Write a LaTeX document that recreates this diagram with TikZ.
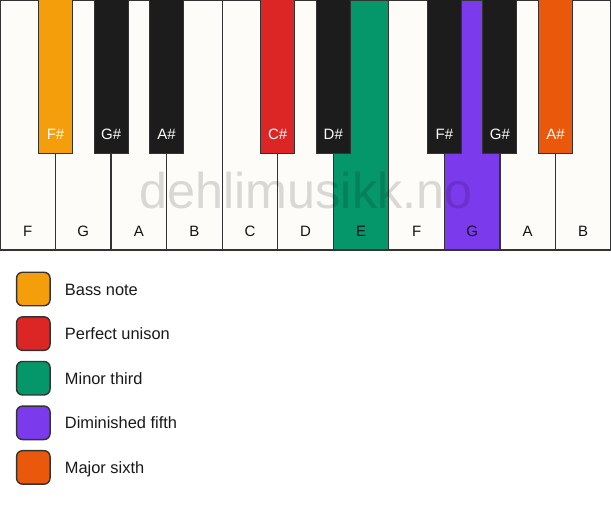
\documentclass[tikz,border=0pt]{standalone}
\usepackage{fontspec}
\setmainfont{Liberation Sans}
\usetikzlibrary{positioning}

\definecolor{keywhite}{HTML}{FDFCF8}
\definecolor{keyblack}{HTML}{1C1C1C}
\definecolor{keyline}{HTML}{333333}
\definecolor{bassnote}{HTML}{F59E0B}
\definecolor{unison}{HTML}{DC2626}
\definecolor{minorthird}{HTML}{059669}
\definecolor{dimfifth}{HTML}{7C3AED}
\definecolor{majorsixth}{HTML}{EA580C}

\tikzset{
	whitekey/.style={draw=keyline, line width=1.3pt},
	blackkey/.style={draw=keyline, line width=1pt},
	keylabel/.style={font=\fontsize{15}{18}\selectfont, text height=11pt, text depth=0pt, inner sep=0pt},
	legendbox/.style={draw=keyline, line width=1.4pt, rounded corners=6pt, minimum size=33.5pt, inner sep=0pt},
	legendtext/.style={font=\fontsize{16.4}{19}\selectfont, text height=12pt, text depth=0pt, inner sep=0pt, text=black!90},
	watermark/.style={font=\fontsize{50.3}{60}\selectfont, text=black, text opacity=0.14, inner sep=0pt}
}

\def\keyw{55.545}

\begin{document}
\begin{tikzpicture}[x=1pt, y=-1pt]
	\useasboundingbox[fill=white] (0,0) rectangle (611,506);
	
	%Weiße Tasten
	\foreach \k/\c [count=\i from 0] in {F/keywhite,G/keywhite,A/keywhite,B/keywhite,C/keywhite,D/keywhite,E/minorthird,F/keywhite,G/dimfifth,A/keywhite,B/keywhite} {
		\draw[whitekey, fill=\c] (\i*\keyw,0) rectangle ++(\keyw,250);
		\node[keylabel, text=black!92] (w\i) at ({(\i+0.5)*\keyw}, 230.5) {\k};
	}
	
	%Schwarze Tasten
	\foreach \b/\k/\c in {1/F\#/bassnote,2/G\#/keyblack,3/A\#/keyblack,5/C\#/unison,6/D\#/keyblack,8/F\#/keyblack,9/G\#/keyblack,10/A\#/majorsixth} {
		\draw[blackkey, fill=\c] (\b*\keyw-17,-1) rectangle ++(34,154);
		\node[keylabel, text=keywhite] (s\b) at (\b*\keyw, 133.5) {\k};
	}
	
	%Wasserzeichen
	\node[watermark, anchor=base] (wm) at (306,208) {dehlimusikk.no};
	
	%Legende
	\foreach \c/\t [count=\n] in {bassnote/Bass note,unison/Perfect unison,minorthird/Minor third,dimfifth/Diminished fifth,majorsixth/Major sixth} {
		\node[legendbox, fill=\c] (box\n) at (33.3, {289+(\n-1)*44.6}) {};
		\node[legendtext, right=14pt of box\n] (lab\n) {\t};
	}
\end{tikzpicture}
\end{document}
